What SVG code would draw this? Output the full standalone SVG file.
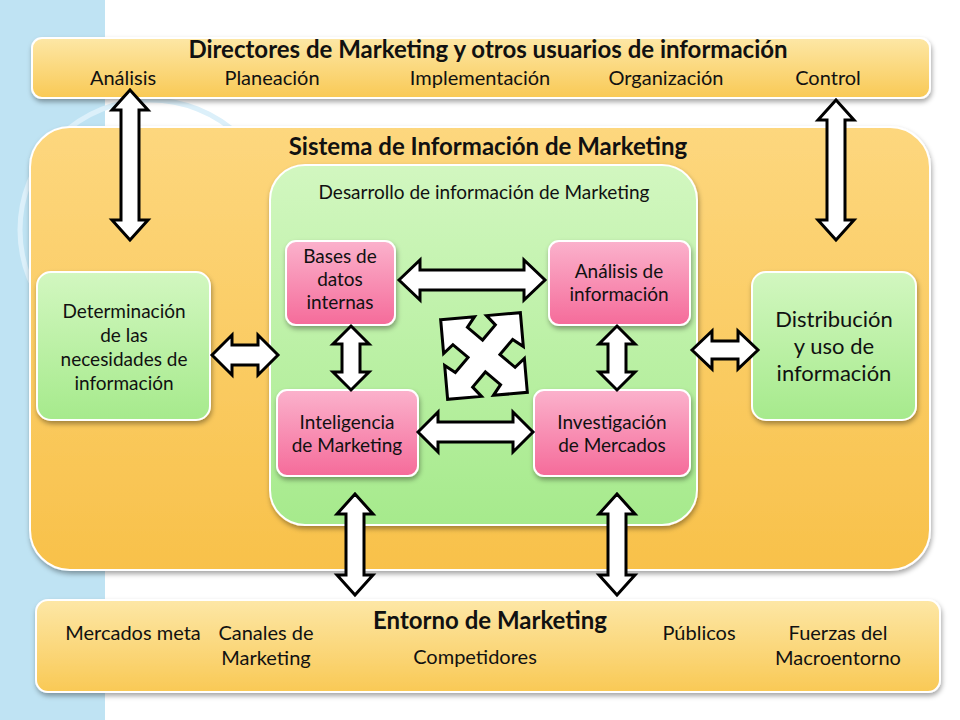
<svg xmlns="http://www.w3.org/2000/svg" width="960" height="720" viewBox="0 0 960 720">
<defs>
<linearGradient id="yg" x1="0" y1="0" x2="0" y2="1"><stop offset="0" stop-color="#fde7a6"/><stop offset="1" stop-color="#f9c955"/></linearGradient>
<linearGradient id="yb" x1="0" y1="0" x2="0" y2="1"><stop offset="0" stop-color="#fdd77e"/><stop offset="1" stop-color="#f8c14a"/></linearGradient>
<linearGradient id="gg" x1="0" y1="0" x2="0" y2="1"><stop offset="0" stop-color="#d2f7c0"/><stop offset="1" stop-color="#a6ea8c"/></linearGradient>
<linearGradient id="pg" x1="0" y1="0" x2="0" y2="1"><stop offset="0" stop-color="#fbb2cc"/><stop offset="1" stop-color="#f56b9a"/></linearGradient>
<filter id="sh" x="-10%" y="-10%" width="120%" height="130%"><feDropShadow dx="1" dy="3" stdDeviation="2.5" flood-opacity="0.35"/></filter>
</defs>
<style>
text{font-family:Lato,"Open Sans","Liberation Sans",sans-serif;fill:#111;text-anchor:middle}
.b{font-weight:bold;font-size:24px}
.s{font-size:20px}
.n{font-size:19px}
.box{stroke:#fff;stroke-width:2;filter:url(#sh)}
.arr{fill:#fff;stroke:#000;stroke-width:3;stroke-linejoin:miter}
</style>
<rect width="960" height="720" fill="#fff"/>
<rect x="0" y="0" width="105" height="720" fill="#bfe3f3"/>
<circle cx="150" cy="230" r="130" fill="none" stroke="#dcf0fa" stroke-width="5"/>
<circle cx="150" cy="440" r="110" fill="none" stroke="#a9d4ea" stroke-width="8"/>
<g id="directores">
<rect class="box" x="32" y="38" width="898" height="60" rx="10" fill="url(#yg)"/>
<text class="b" x="488" y="58">Directores de Marketing y otros usuarios de información</text>
<text class="s" x="123" y="85">Análisis</text><text class="s" x="272" y="85">Planeación</text><text class="s" x="480" y="85">Implementación</text><text class="s" x="666" y="85">Organización</text><text class="s" x="828" y="85">Control</text>
</g>
<g id="sistema">
<rect class="box" x="30" y="127" width="900" height="443" rx="40" fill="url(#yb)"/>
<text class="b" x="488" y="155">Sistema de Información de Marketing</text>
</g>
<g id="desarrollo">
<rect class="box" x="270" y="165" width="427" height="360" rx="35" fill="url(#gg)"/>
<text class="n" x="484" y="199">Desarrollo de información de Marketing</text>
</g>
<g id="determinacion">
<rect class="box" x="37" y="272" width="173" height="148" rx="14" fill="url(#gg)"/>
<text class="n" x="124" y="318">Determinación</text><text class="n" x="124" y="342">de las</text><text class="n" x="124" y="366">necesidades de</text><text class="n" x="124" y="390">información</text>
</g>
<g id="distribucion">
<rect class="box" x="752" y="272" width="164" height="148" rx="14" fill="url(#gg)"/>
<text x="834" y="327" font-size="22">Distribución</text><text x="834" y="354" font-size="22">y uso de</text><text x="834" y="381" font-size="22">información</text>
</g>
<g id="bases">
<rect class="box" x="286" y="241" width="109" height="84" rx="10" fill="url(#pg)"/>
<text class="n" x="340" y="263">Bases de</text><text class="n" x="340" y="286">datos</text><text class="n" x="340" y="309">internas</text>
</g>
<g id="analisis">
<rect class="box" x="549" y="241" width="141" height="84" rx="10" fill="url(#pg)"/>
<text class="n" x="619" y="278">Análisis de</text><text class="n" x="619" y="301">información</text>
</g>
<g id="inteligencia">
<rect class="box" x="277" y="390" width="141" height="86" rx="10" fill="url(#pg)"/>
<text class="n" x="347" y="429">Inteligencia</text><text class="n" x="347" y="452">de Marketing</text>
</g>
<g id="investigacion">
<rect class="box" x="534" y="390" width="156" height="86" rx="10" fill="url(#pg)"/>
<text class="n" x="612" y="429">Investigación</text><text class="n" x="612" y="452">de Mercados</text>
</g>
<g id="entorno">
<rect class="box" x="36" y="600" width="904" height="92" rx="12" fill="url(#yg)"/>
<text class="b" x="490" y="629">Entorno de Marketing</text>
<text class="s" x="133" y="640">Mercados meta</text>
<text class="s" x="266" y="640">Canales de</text><text class="s" x="266" y="665">Marketing</text>
<text class="s" x="475" y="664">Competidores</text>
<text class="s" x="699" y="640">Públicos</text>
<text class="s" x="838" y="640">Fuerzas del</text><text class="s" x="838" y="665">Macroentorno</text>
</g>
<g id="connectors">
<path class="arr" d="M130 90 L148 110 L139 110 L139 220 L148 220 L130 240 L112 220 L121 220 L121 110 L112 110 Z"/>
<path class="arr" d="M836 100 L854 120 L845 120 L845 220 L854 220 L836 240 L818 220 L827 220 L827 120 L818 120 Z"/>
<path class="arr" d="M212 355 L232 335 L232 345 L258 345 L258 335 L278 355 L258 375 L258 365 L232 365 L232 375 Z"/>
<path class="arr" d="M692 350 L712 331 L712 341 L738 341 L738 331 L758 350 L738 369 L738 359 L712 359 L712 369 Z"/>
<path class="arr" d="M399 280 L420 260 L420 270 L524 270 L524 260 L545 280 L524 300 L524 290 L420 290 L420 300 Z"/>
<path class="arr" d="M351 326 L369 344 L360 344 L360 372 L369 372 L351 390 L333 372 L342 372 L342 344 L333 344 Z"/>
<path class="arr" d="M617 326 L635 344 L626 344 L626 372 L635 372 L617 390 L599 372 L608 372 L608 344 L599 344 Z"/>
<path class="arr" d="M418 432 L438 412 L438 422 L513 422 L513 412 L533 432 L513 452 L513 442 L438 442 L438 452 Z"/>
<path class="arr" d="M355 494 L373 514 L364 514 L364 575 L373 575 L355 595 L337 575 L346 575 L346 514 L337 514 Z"/>
<path class="arr" d="M617 494 L635 514 L626 514 L626 575 L635 575 L617 595 L599 575 L608 575 L608 514 L599 514 Z"/>
<polygon class="arr" transform="translate(484 356) rotate(-5)" points="-40,-40 -6,-40 -14,-30 0,-16 14,-30 6,-40 40,-40 40,-6 30,-14 16,0 30,14 40,6 40,40 6,40 14,30 0,16 -14,30 -6,40 -40,40 -40,6 -30,14 -16,0 -30,-14 -40,-6"/>
</g>
</svg>
